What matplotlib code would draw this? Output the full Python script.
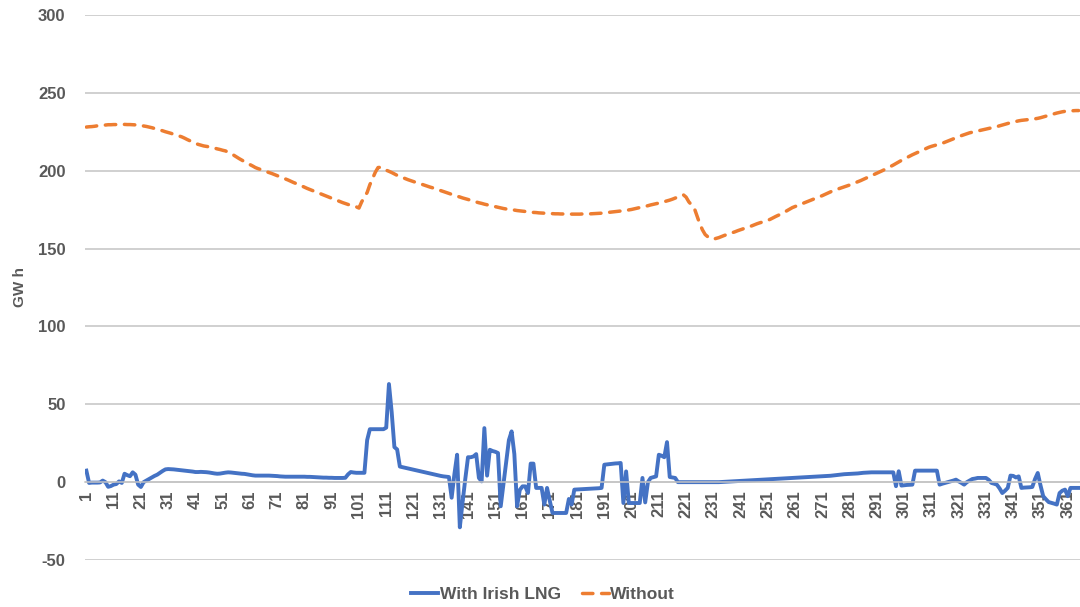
import matplotlib
matplotlib.use("Agg")
import matplotlib.pyplot as plt
import numpy as np

# Daily storage level (GWh), day 1..365
with_lng = [
    7.4, -0.5, -0.3, -0.3, -0.3, -0.2, 1.0, 0.0, -3.0, -2.5,
    -1.6, -1.2, 0.5, -0.5, 5.4, 4.5, 3.8, 6.3, 4.8, -1.6,
    -3.1, 0.0, 1.0, 2.0, 3.0, 4.0, 4.8, 6.0, 7.2, 8.2,
    8.4, 8.3, 8.2, 8.0, 7.8, 7.6, 7.4, 7.2, 7.0, 6.8,
    6.5, 6.5, 6.6, 6.5, 6.4, 6.2, 5.9, 5.6, 5.4, 5.5,
    5.8, 6.1, 6.3, 6.2, 6.0, 5.8, 5.6, 5.4, 5.3, 5.0,
    4.7, 4.4, 4.2, 4.2, 4.2, 4.2, 4.2, 4.2, 4.1, 4.0,
    3.9, 3.7, 3.6, 3.5, 3.5, 3.5, 3.5, 3.5, 3.5, 3.5,
    3.5, 3.4, 3.4, 3.3, 3.2, 3.1, 3.0, 2.9, 2.9, 2.8,
    2.8, 2.7, 2.7, 2.7, 2.7, 2.8, 5.0, 6.5, 6.2, 6.0,
    6.0, 6.0, 6.0, 27.0, 34.0, 34.0, 34.0, 34.0, 34.0, 34.0,
    35.0, 63.0, 45.0, 22.5, 21.0, 10.0, 9.6, 9.2, 8.8, 8.4,
    8.0, 7.6, 7.2, 6.8, 6.4, 6.0, 5.6, 5.2, 4.8, 4.4,
    4.0, 3.7, 3.5, 3.3, -10.0, 5.0, 17.6, -29.0, -13.0, 2.0,
    16.0, 16.0, 16.5, 18.0, 2.7, 0.5, 34.7, 4.2, 20.8, 20.0,
    19.5, 18.7, -15.5, -1.5, 12.7, 27.0, 32.6, 18.0, -15.5, -5.0,
    -2.7, -2.7, -7.0, 11.9, 11.9, -3.7, -3.7, -3.7, -14.4, -3.7,
    -12.0, -19.8, -19.8, -19.8, -19.8, -19.8, -19.8, -10.8, -14.4, -4.8,
    -4.7, -4.6, -4.5, -4.4, -4.3, -4.2, -4.1, -4.0, -3.9, -3.7,
    11.2, 11.4, 11.6, 11.8, 12.0, 12.1, 12.3, -13.4, 6.9, -13.4,
    -13.4, -13.4, -13.4, -13.4, 2.7, -13.0, 0.0, 2.7, 3.2, 3.7,
    17.6, 17.0, 16.0, 25.7, 3.3, 3.0, 2.7, 0.0, 0.0, 0.0,
    0.0, 0.0, 0.0, 0.0, 0.0, 0.0, 0.0, 0.0, 0.0, 0.0,
    0.0, 0.0, 0.0, 0.1, 0.2, 0.3, 0.4, 0.5, 0.6, 0.7,
    0.8, 0.9, 1.0, 1.1, 1.2, 1.3, 1.4, 1.5, 1.6, 1.7,
    1.8, 1.9, 2.0, 2.1, 2.2, 2.3, 2.4, 2.5, 2.6, 2.7,
    2.8, 2.9, 3.0, 3.1, 3.2, 3.3, 3.4, 3.5, 3.6, 3.7,
    3.8, 3.9, 4.0, 4.1, 4.3, 4.5, 4.7, 4.9, 5.1, 5.2,
    5.3, 5.4, 5.5, 5.6, 5.8, 6.0, 6.1, 6.2, 6.3, 6.3,
    6.3, 6.3, 6.3, 6.3, 6.3, 6.3, 6.3, -2.6, 7.0, -2.2,
    -2.0, -1.8, -1.7, -1.6, 7.4, 7.4, 7.4, 7.4, 7.4, 7.4,
    7.4, 7.4, 7.4, -1.6, -1.0, -0.5, 0.0, 0.5, 1.0, 1.6,
    0.5, -0.5, -1.6, 0.0, 1.0, 2.0, 2.3, 2.7, 2.7, 2.7,
    2.7, 1.5, -0.5, -1.0, -1.6, -4.0, -7.0, -5.5, -3.7, 4.2,
    4.0, 3.0, 3.7, -3.7, -3.5, -3.4, -3.3, -3.1, 2.0, 5.9,
    -2.0, -9.0, -11.0, -12.8, -13.3, -13.8, -14.4, -7.0, -5.5, -4.8,
    -9.0, -3.7, -3.7, -3.7, -3.7,
]

without = [
    228.0, 228.2, 228.3, 228.5, 228.8, 229.0, 229.1, 229.3, 229.5, 229.5,
    229.6, 229.6, 229.7, 229.7, 229.7, 229.6, 229.6, 229.5, 229.4, 229.2,
    229.0, 228.7, 228.4, 228.0, 227.6, 227.1, 226.6, 226.1, 225.6, 225.0,
    224.5, 224.0, 223.4, 222.8, 222.3, 221.7, 220.9, 220.0, 219.2, 218.3,
    217.5, 216.9, 216.4, 215.9, 215.6, 215.3, 214.9, 214.5, 214.0, 213.6,
    213.1, 212.7, 211.9, 211.0, 210.0, 208.9, 207.8, 206.8, 205.8, 204.9,
    203.9, 203.0, 202.0, 201.3, 200.7, 200.0, 199.4, 198.8, 198.2, 197.5,
    196.8, 196.1, 195.4, 194.7, 194.0, 193.2, 192.4, 191.7, 190.9, 190.2,
    189.4, 188.6, 187.9, 187.2, 186.5, 185.8, 185.1, 184.4, 183.7, 183.0,
    182.3, 181.6, 180.9, 180.2, 179.5, 178.9, 178.3, 177.8, 177.3, 176.8,
    176.0, 180.0, 183.0, 186.0, 191.0, 195.0, 199.0, 202.0, 202.2, 201.0,
    200.3, 199.6, 198.8, 197.9, 197.0, 196.3, 195.6, 194.9, 194.2, 193.6,
    193.0, 192.4, 191.8, 191.3, 190.7, 190.1, 189.5, 189.0, 188.4, 187.8,
    187.2, 186.6, 186.0, 185.4, 184.8, 184.2, 183.6, 183.1, 182.5, 182.0,
    181.5, 181.0, 180.4, 179.9, 179.4, 179.0, 178.5, 178.1, 177.7, 177.3,
    176.9, 176.5, 176.1, 175.7, 175.4, 175.1, 174.9, 174.7, 174.4, 174.2,
    174.0, 173.8, 173.6, 173.4, 173.2, 173.1, 172.9, 172.8, 172.7, 172.6,
    172.5, 172.4, 172.3, 172.3, 172.2, 172.2, 172.1, 172.1, 172.1, 172.1,
    172.1, 172.1, 172.2, 172.2, 172.3, 172.3, 172.4, 172.5, 172.6, 172.7,
    172.9, 173.1, 173.3, 173.5, 173.7, 173.9, 174.1, 174.3, 174.5, 174.8,
    175.1, 175.5, 175.9, 176.3, 176.7, 177.1, 177.5, 178.0, 178.4, 178.8,
    179.2, 179.6, 180.1, 180.6, 181.1, 181.7, 182.4, 183.1, 183.8, 184.5,
    183.0, 180.0, 178.0, 176.0, 171.0, 166.0, 162.0, 159.0, 157.5, 157.0,
    156.0, 156.5, 157.0, 157.7, 158.4, 159.0, 159.6, 160.2, 160.8, 161.5,
    162.1, 162.7, 163.3, 163.9, 164.5, 165.2, 165.9, 166.5, 167.0, 167.5,
    168.1, 168.9, 169.8, 170.7, 171.5, 172.4, 173.3, 174.3, 175.3, 176.3,
    177.0, 177.7, 178.4, 179.1, 179.8, 180.5, 181.2, 181.9, 182.6, 183.3,
    184.0, 184.8, 185.6, 186.4, 187.2, 187.8, 188.4, 189.0, 189.6, 190.2,
    190.8, 191.5, 192.2, 192.9, 193.6, 194.4, 195.2, 196.0, 196.8, 197.6,
    198.4, 199.2, 200.0, 200.9, 201.8, 202.7, 203.6, 204.6, 205.6, 206.6,
    207.5, 208.4, 209.3, 210.2, 211.0, 211.8, 212.6, 213.4, 214.2, 215.0,
    215.6, 216.1, 216.6, 217.1, 217.6, 218.3, 219.0, 219.7, 220.4, 221.1,
    221.8, 222.5, 223.1, 223.7, 224.3, 224.7, 225.1, 225.5, 225.9, 226.3,
    226.7, 227.1, 227.5, 227.9, 228.3, 228.8, 229.3, 229.8, 230.3, 230.8,
    231.2, 231.6, 232.0, 232.3, 232.5, 232.7, 232.9, 233.1, 233.3, 233.6,
    234.0, 234.5, 235.0, 235.5, 236.0, 236.5, 237.0, 237.4, 237.8, 238.1,
    238.3, 238.4, 238.5, 238.6, 238.6,
]

days = np.arange(1, len(with_lng) + 1)
x_ticks = list(range(1, 366, 10))
y_ticks = [-50, 0, 50, 100, 150, 200, 250, 300]

plt.rcParams["font.family"] = ["Liberation Sans", "DejaVu Sans"]
plt.rcParams["font.weight"] = "bold"
plt.rcParams["axes.unicode_minus"] = False
grey = "#595959"

fig = plt.figure(figsize=(10.8, 6.07), dpi=100)
ax = fig.add_axes([0.0787, 0.0774, 0.9213, 0.898])

ax.plot(days, with_lng, color="#4472C4", lw=2.8, label="With Irish LNG",
        solid_joinstyle="round")
ax.plot(days, without, color="#ED7D31", lw=2.5, linestyle=(0, (3.0, 2.5)),
        dash_capstyle="round", label="Without")

ax.set_xlim(0.5, 365.5)
ax.set_ylim(-50, 300)
ax.set_yticks(y_ticks)
ax.set_xticks(x_ticks)
ax.set_xticklabels([str(t) for t in x_ticks])
ax.grid(axis="y", color="#c4c4c4", lw=1.1)
ax.set_axisbelow(True)

for s in ["left", "right", "top"]:
    ax.spines[s].set_visible(False)
ax.spines["bottom"].set_position(("data", 0))
ax.spines["bottom"].set_color("#c4c4c4")
ax.spines["bottom"].set_linewidth(1.1)

ax.tick_params(axis="y", length=0, pad=14, labelsize=12, labelcolor=grey)
ax.tick_params(axis="x", length=0, pad=6, labelsize=12, labelcolor=grey,
               labelrotation=90)
for lab in ax.get_xticklabels() + ax.get_yticklabels():
    lab.set_fontweight("bold")

ax.set_ylabel("GW h", fontsize=11, fontweight="bold", color=grey)
ax.yaxis.set_label_coords(-0.058, 0.5)

fig.legend(loc="center", bbox_to_anchor=(0.503, 0.02), ncol=2, frameon=False,
           handlelength=1.55, handletextpad=0.1, columnspacing=1.2,
           labelcolor=grey, prop={"weight": "bold", "size": 12.5})

fig.savefig("out.png", dpi=100)
